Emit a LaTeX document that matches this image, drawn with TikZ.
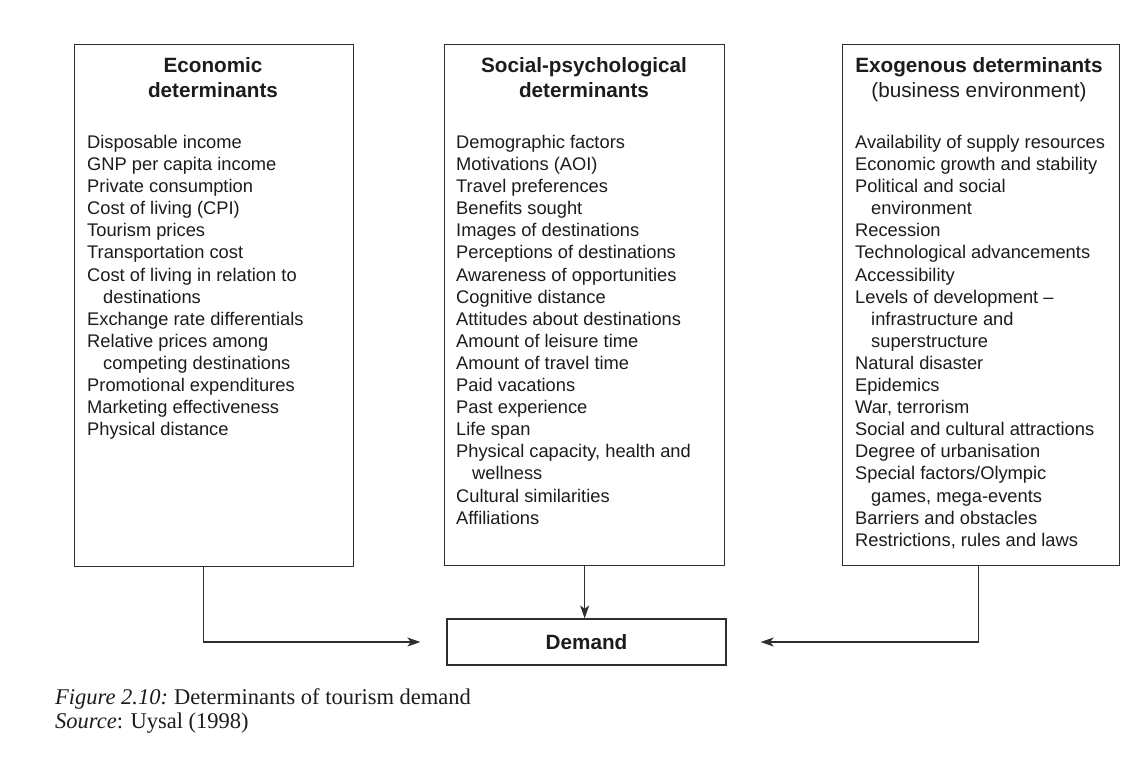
\documentclass[tikz,border=0pt]{standalone}
\usepackage{fontspec}
\setmainfont{Liberation Sans}
\newfontfamily\capfont{Liberation Serif}
\usetikzlibrary{arrows.meta,positioning}
\definecolor{ink}{HTML}{1C1C1C}
\definecolor{linec}{HTML}{2E2E2E}
\tikzset{
  box/.style={draw=linec, line width=1.3pt, inner sep=0pt, fill=white},
  titletext/.style={font=\fontsize{20.7}{25}\selectfont\bfseries, align=center, inner sep=0pt, text=ink, anchor=north},
  subtext/.style={font=\fontsize{20.7}{25}\selectfont, inner sep=0pt, text=ink},
  itemtext/.style={font=\fontsize{18.3}{22.1}\selectfont, align=left, inner sep=0pt, text=ink, anchor=north west},
  conn/.style={draw=linec, line width=1.3pt, -{Stealth[length=13pt,width=9pt,inset=3.5pt]}},
  captext/.style={font=\capfont\fontsize{22.5}{23}\selectfont, inner sep=0pt, text=ink, anchor=base west}
}
\newcommand{\ind}{\hspace*{16pt}}
\begin{document}
\begin{tikzpicture}[x=1pt,y=-1pt]
\useasboundingbox (0,0) rectangle (1130,764);
\fill[white] (0,0) rectangle (1130,764);

% boxes
\node[box, minimum width=279pt, minimum height=522pt, anchor=north west] (econ) at (74,44) {};
\node[box, minimum width=280pt, minimum height=521pt, anchor=north west] (social) at (444,44) {};
\node[box, minimum width=277pt, minimum height=521pt, anchor=north west] (exo) at (842,44) {};
\node[box, minimum width=279pt, minimum height=46pt, font=\fontsize{20.7}{25}\selectfont\bfseries, text=ink] (demand) at (586.5,642) {Demand};

% titles
\node[titletext] (econT) at (213,57) {Economic\\determinants};
\node[titletext] (socT) at (584,57) {Social-psychological\\determinants};
\node[titletext] (exoT) at (979,57) {Exogenous determinants};
\node[subtext, anchor=base] (exoS) at (979,97) {(business environment)};

% lists
\node[itemtext] (econL) at (87,135) {Disposable income\\GNP per capita income\\Private consumption\\Cost of living (CPI)\\Tourism prices\\Transportation cost\\Cost of living in relation to\\\ind destinations\\Exchange rate differentials\\Relative prices among\\\ind competing destinations\\Promotional expenditures\\Marketing effectiveness\\Physical distance};
\node[itemtext] (socL) at (456,135) {Demographic factors\\Motivations (AOI)\\Travel preferences\\Benefits sought\\Images of destinations\\Perceptions of destinations\\Awareness of opportunities\\Cognitive distance\\Attitudes about destinations\\Amount of leisure time\\Amount of travel time\\Paid vacations\\Past experience\\Life span\\Physical capacity, health and\\\ind wellness\\Cultural similarities\\Affiliations};
\node[itemtext] (exoL) at (855,135) {Availability of supply resources\\Economic growth and stability\\Political and social\\\ind environment\\Recession\\Technological advancements\\Accessibility\\Levels of development --\\\ind infrastructure and\\\ind superstructure\\Natural disaster\\Epidemics\\War, terrorism\\Social and cultural attractions\\Degree of urbanisation\\Special factors/Olympic\\\ind games, mega-events\\Barriers and obstacles\\Restrictions, rules and laws};

% connectors
\draw[conn] ([xshift=-11pt]econ.south) |- ([xshift=-26pt]demand.west);
\draw[conn] (social.south) -- (social.south |- demand.north);
\draw[conn] ([xshift=-3pt]exo.south) |- ([xshift=34pt]demand.east);

% caption
\node[captext] (cap1) at (55,704) {\textit{Figure 2.10:}\hspace{6pt}Determinants of tourism demand};
\node[captext] (cap2) at (55,728) {\textit{Source}: Uysal (1998)};
\end{tikzpicture}
\end{document}
